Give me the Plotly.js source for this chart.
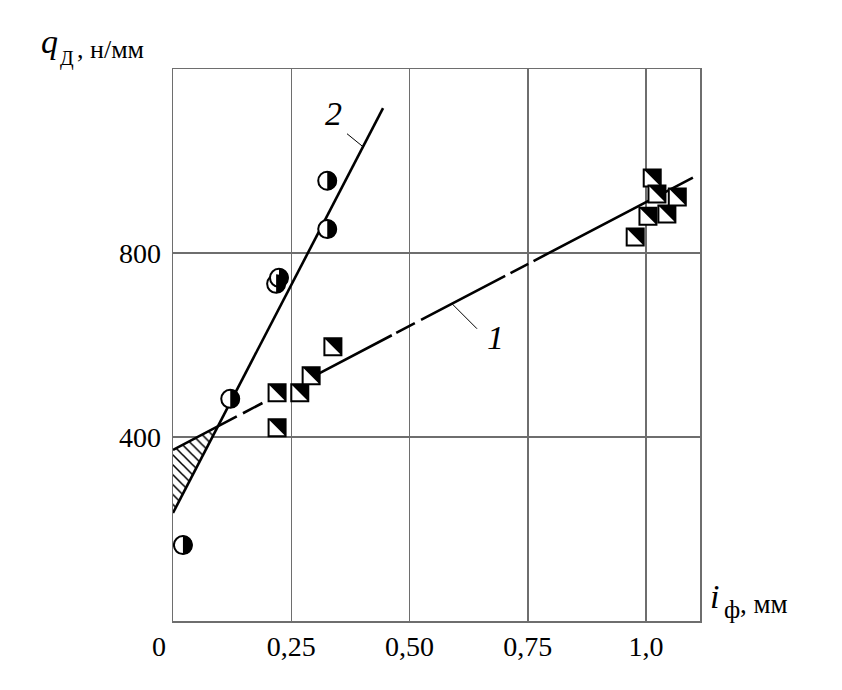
<!DOCTYPE html>
<html><head><meta charset="utf-8">
<script src="https://cdn.plot.ly/plotly-3.0.1.min.js"></script>
<style>html,body{margin:0;padding:0;background:#fff;}#chart{width:842px;height:690px;}</style>
</head><body><div id="chart"></div>
<script>
// ---- data ----
const circleX = [0.021, 0.121, 0.218, 0.224, 0.326, 0.326];
const circleY = [165, 483, 733, 746, 852, 957];
const squareX = [0.220, 0.220, 0.268, 0.292, 0.338, 0.977, 1.004, 1.013, 1.023, 1.044, 1.066];
const squareY = [420, 496, 496, 533, 596, 835, 880, 963, 928, 885, 922];
const line1X = [0, 1.099];
const line1Y = [372, 964];
const line2X = [0, 0.444];
const line2Y = [235, 1115];
const xTickVals = [0.25, 0.5, 0.75, 1.0];
const xTickText = ['0,25', '0,50', '0,75', '1,0'];
const yTickVals = [400, 800];
const yTickText = ['400', '800'];
const curveLabels = ['1', '2'];

// ---- helpers ----
function slope(X, Y) { return (Y[1] - Y[0]) / (X[1] - X[0]); }
function lineAt(X, Y, x) { return Y[0] + slope(X, Y) * (x - X[0]); }
const m1 = slope(line1X, line1Y), m2 = slope(line2X, line2Y);
const xi = (line1Y[0] - line2Y[0]) / (m2 - m1);
const yi = lineAt(line1X, line1Y, xi);

const W = 842, H = 690, ML = 173, MR = 142, MT = 69, MB = 69;
const PW = W - ML - MR, PH = H - MT - MB;
const pX = p => (p - ML) / PW;
const pY = p => (H - MB - p) / PH;
const dX = p => (p - ML) / PW * 1.114;

const serif = 'Liberation Serif, Times New Roman, serif';

const traces = [
  { // hatched region between the two lines
    x: [line1X[0], xi, line2X[0], line1X[0]],
    y: [line1Y[0], yi, line2Y[0], line1Y[0]],
    mode: 'lines', fill: 'toself', line: {width: 0, color: 'rgba(0,0,0,0)'},
    fillcolor: 'white',
    fillpattern: {shape: '\\', fgcolor: 'black', bgcolor: 'white', size: 7, solidity: 0.22},
    hoverinfo: 'skip', showlegend: false
  },
  {
    x: line1X, y: line1Y, mode: 'lines',
    line: {color: 'black', width: 2.6, dash: '72px,7px,22px,64px,82px,5px,21px,7px,95px,6px,20px,6px,260px'},
    showlegend: false, hoverinfo: 'skip'
  },
  {
    x: line2X, y: line2Y, mode: 'lines',
    line: {color: 'black', width: 2.6},
    showlegend: false, hoverinfo: 'skip'
  },
  {
    x: circleX, y: circleY, mode: 'markers',
    marker: {symbol: 'circle', size: 18, color: 'white', line: {color: 'black', width: 2}},
    showlegend: false, hoverinfo: 'skip'
  },
  {
    x: squareX, y: squareY, mode: 'markers',
    marker: {symbol: 'square', size: 17, color: 'white', line: {color: 'black', width: 2}},
    showlegend: false, hoverinfo: 'skip'
  }
];

const shapes = [];
const r = 9.5, k = 0.5523 * r;
circleX.forEach((x, i) => {
  shapes.push({
    type: 'path', xref: 'x', yref: 'y', xsizemode: 'pixel', ysizemode: 'pixel',
    xanchor: x, yanchor: circleY[i], layer: 'above',
    path: `M0,${r} C${k},${r} ${r},${k} ${r},0 C${r},${-k} ${k},${-r} 0,${-r} Z`,
    fillcolor: 'black', line: {width: 0}
  });
});
const s = 8.5;
squareX.forEach((x, i) => {
  shapes.push({
    type: 'path', xref: 'x', yref: 'y', xsizemode: 'pixel', ysizemode: 'pixel',
    xanchor: x, yanchor: squareY[i], layer: 'above',
    path: `M${-s},${s} L${s},${s} L${s},${-s} Z`,
    fillcolor: 'black', line: {width: 0}
  });
});
// leader lines for curve labels
const lead2x = dX(363), lead1x = dX(452);
shapes.push({type: 'line', xref: 'x', yref: 'y', xsizemode: 'pixel', ysizemode: 'pixel',
  xanchor: lead2x, yanchor: lineAt(line2X, line2Y, lead2x), x0: 0, y0: 0, x1: -16, y1: 13,
  line: {color: 'black', width: 1}, layer: 'above'});
shapes.push({type: 'line', xref: 'x', yref: 'y', xsizemode: 'pixel', ysizemode: 'pixel',
  xanchor: lead1x, yanchor: lineAt(line1X, line1Y, lead1x), x0: 0, y0: 0, x1: 25, y1: -25,
  line: {color: 'black', width: 1}, layer: 'above'});

function ann(text, x, y, size, opts) {
  return Object.assign({text: text, x: x, y: y, xref: 'paper', yref: 'paper',
    xanchor: 'left', yanchor: 'middle', showarrow: false, borderpad: 0,
    font: {family: serif, size: size, color: 'black'}}, opts || {});
}

const annotations = [
  ann('<i>q</i>', pX(40), pY(41), 34),
  ann('Д', pX(59), pY(58), 20),
  ann(', н/мм', pX(76), pY(50), 26),
  ann('<i>i</i>', pX(709), pY(596), 34),
  ann('ф', pX(723), pY(609), 25),
  ann(', мм', pX(739), pY(604), 27),
  ann('0', pX(159), pY(646), 28, {xanchor: 'center'}),
  ann('<i>' + curveLabels[1] + '</i>', pX(333), pY(113), 34, {xanchor: 'center'}),
  ann('<i>' + curveLabels[0] + '</i>', pX(495), pY(337), 34, {xanchor: 'center'})
];

const gridCol = '#6e6e6e';
const layout = {
  width: W, height: H,
  margin: {l: ML, r: MR, t: MT, b: MB, pad: 0},
  paper_bgcolor: 'white', plot_bgcolor: 'white',
  showlegend: false, hovermode: false,
  xaxis: {
    range: [0, 1.114], tickvals: xTickVals, ticktext: xTickText,
    showgrid: true, gridcolor: gridCol, gridwidth: 1.5,
    showline: true, linecolor: gridCol, linewidth: 1.5, mirror: true,
    ticks: '', zeroline: false, ticklabelstandoff: 0,
    tickfont: {family: serif, size: 28, color: 'black'}
  },
  yaxis: {
    range: [0, 1200], tickvals: yTickVals, ticktext: yTickText,
    showgrid: true, gridcolor: gridCol, gridwidth: 1.5,
    showline: true, linecolor: gridCol, linewidth: 1.5, mirror: true,
    ticks: '', zeroline: false, ticklabelstandoff: 5,
    tickfont: {family: serif, size: 28, color: 'black'}
  },
  shapes: shapes,
  annotations: annotations
};

Plotly.newPlot('chart', traces, layout, {displayModeBar: false, staticPlot: true});
</script>
</body></html>
